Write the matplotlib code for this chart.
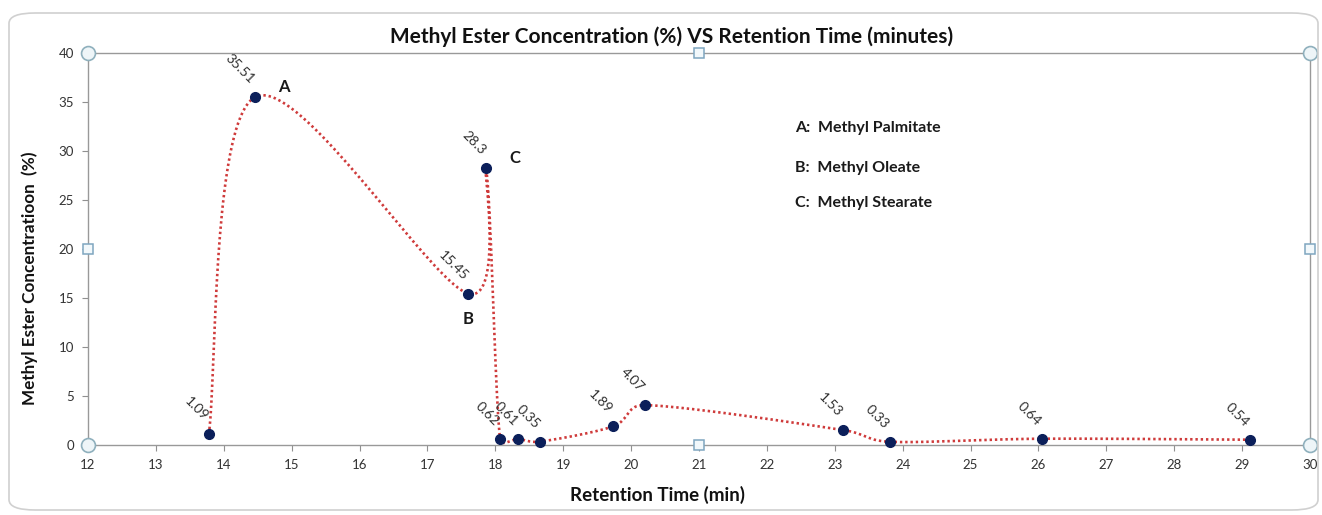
#!/usr/bin/env python3
"""Methyl ester concentration vs retention time (GC trace, Excel-style smoothed line)."""
import numpy as np
import matplotlib
matplotlib.use("Agg")
import matplotlib.pyplot as plt
from matplotlib.patches import FancyBboxPatch

plt.rcParams["font.family"] = ["Lato", "DejaVu Sans"]

# data
retention_min = [13.78, 14.46, 17.60, 17.86, 18.07, 18.34, 18.66, 19.73, 20.20,
                 23.12, 23.81, 26.05, 29.11]
concentration = [1.09, 35.51, 15.45, 28.3, 0.62, 0.61, 0.35, 1.89, 4.07,
                 1.53, 0.33, 0.64, 0.54]
value_labels = ["1.09", "35.51", "15.45", "28.3", "0.62", "0.61", "0.35", "1.89",
                "4.07", "1.53", "0.33", "0.64", "0.54"]
peak_letters = {"A": 1, "B": 2, "C": 3}
peak_names = ["A:  Methyl Palmitate", "B:  Methyl Oleate", "C:  Methyl Stearate"]

X_LIM = (12, 30)
Y_LIM = (0, 40)


def smooth(xs, ys, sx, sy, n=40, k=0.5):
    """Excel-like smoothed line: cubic Bezier with Catmull-Rom control points,
    computed in (scaled) screen space; control arms are kept shorter than
    k * segment length so short segments don't overshoot."""
    p = np.column_stack([np.asarray(xs) * sx, np.asarray(ys) * sy])
    p = np.vstack([p[0], p, p[-1]])
    out = []
    t = np.linspace(0, 1, n)[:, None]
    for i in range(1, len(p) - 2):
        p0, p1, p2, p3 = p[i - 1], p[i], p[i + 1], p[i + 2]
        seg = np.hypot(*(p2 - p1))
        d1 = (p2 - p0) / 6.0
        d2 = (p3 - p1) / 6.0
        for d in (d1, d2):
            ln = np.hypot(*d)
            if ln > k * seg:
                d *= k * seg / ln
        c1 = p1 + d1
        c2 = p2 - d2
        bez = ((1 - t) ** 3) * p1 + 3 * ((1 - t) ** 2) * t * c1 \
            + 3 * (1 - t) * t ** 2 * c2 + t ** 3 * p2
        out.append(bez if i == 1 else bez[1:])
    out = np.vstack(out)
    return out[:, 0] / sx, out[:, 1] / sy


fig = plt.figure(figsize=(13.22, 5.15), dpi=100)

# rounded chart border
fig.patches.append(FancyBboxPatch((9 / 1322, 5 / 515), 1309 / 1322, 497 / 515,
                                  boxstyle="round,pad=0,rounding_size=0.02",
                                  transform=fig.transFigure, fill=False,
                                  edgecolor="#d0d0d0", linewidth=1.2))

ax = fig.add_axes([88 / 1322, 70 / 515, 1222 / 1322, 392 / 515])
ax.set_xlim(*X_LIM)
ax.set_ylim(*Y_LIM)

# pixels per unit, so the spline is built in screen proportions
sx = 1222 / (X_LIM[1] - X_LIM[0])
sy = 392 / (Y_LIM[1] - Y_LIM[0])
cx, cy = smooth(retention_min, concentration, sx, sy)
ax.plot(cx, cy, color="#cf3b3b", linewidth=1.9, linestyle=(0, (0.9, 1.1)),
        clip_on=False, zorder=3)
ax.plot(retention_min, concentration, "o", color="#0b1f5a", markersize=7,
        clip_on=False, zorder=4)

for x, y, lab in zip(retention_min, concentration, value_labels):
    ax.annotate(lab, (x, y), xytext=(-5, 8), textcoords="offset points",
                rotation=-45, rotation_mode="anchor", ha="right", va="bottom",
                fontsize=10, color="#303030")

letter_offsets = {"A": (21, 7), "B": (0, -18), "C": (21, 7)}
for letter, idx in peak_letters.items():
    ax.annotate(letter, (retention_min[idx], concentration[idx]),
                xytext=letter_offsets[letter], textcoords="offset points",
                ha="center", va="center", fontsize=12, fontweight="bold",
                color="#1a1a1a")

for name, yy in zip(peak_names, [128, 168, 203]):
    fig.text(795 / 1322, 1 - yy / 515, name, fontsize=11.5, fontweight="bold",
             va="center", ha="left", color="#1a1a1a")

ax.set_xticks(range(12, 31))
ax.set_yticks(range(0, 41, 5))
ax.tick_params(axis="both", direction="out", length=4, width=0.8,
               color="#909090", labelsize=9.5, labelcolor="#333333", pad=6)
for s in ax.spines.values():
    s.set_color("#999999")
    s.set_linewidth(1.0)

fig.text(672 / 1322, 1 - 37 / 515,
         "Methyl Ester Concentration (%) VS Retention Time (minutes)",
         fontsize=15, fontweight="bold", color="#111111", ha="center", va="center")
fig.text(658 / 1322, 1 - 495 / 515, "Retention Time (min)", fontsize=13.5,
         fontweight="bold", color="#111111", ha="center", va="center")
fig.text(30 / 1322, 1 - 278 / 515, "Methyl Ester Concentratioon  (%)",
         fontsize=12.3, fontweight="bold", color="#111111", ha="center",
         va="center", rotation=90)

# selection handles on the plot area
for hx, hy in [(0, 0), (0, 1), (1, 1), (1, 0)]:
    ax.plot(hx, hy, "o", transform=ax.transAxes, markersize=10, clip_on=False,
            markerfacecolor="#eef5f8", markeredgecolor="#8fb0bd", markeredgewidth=1.2,
            zorder=5)
for hx, hy in [(0.5, 0), (0.5, 1), (0, 0.5), (1, 0.5)]:
    ax.plot(hx, hy, "s", transform=ax.transAxes, markersize=7, clip_on=False,
            markerfacecolor="#f2f8fb", markeredgecolor="#7fa6c0", markeredgewidth=1.1,
            zorder=5)

fig.savefig("out.png", dpi=100)
